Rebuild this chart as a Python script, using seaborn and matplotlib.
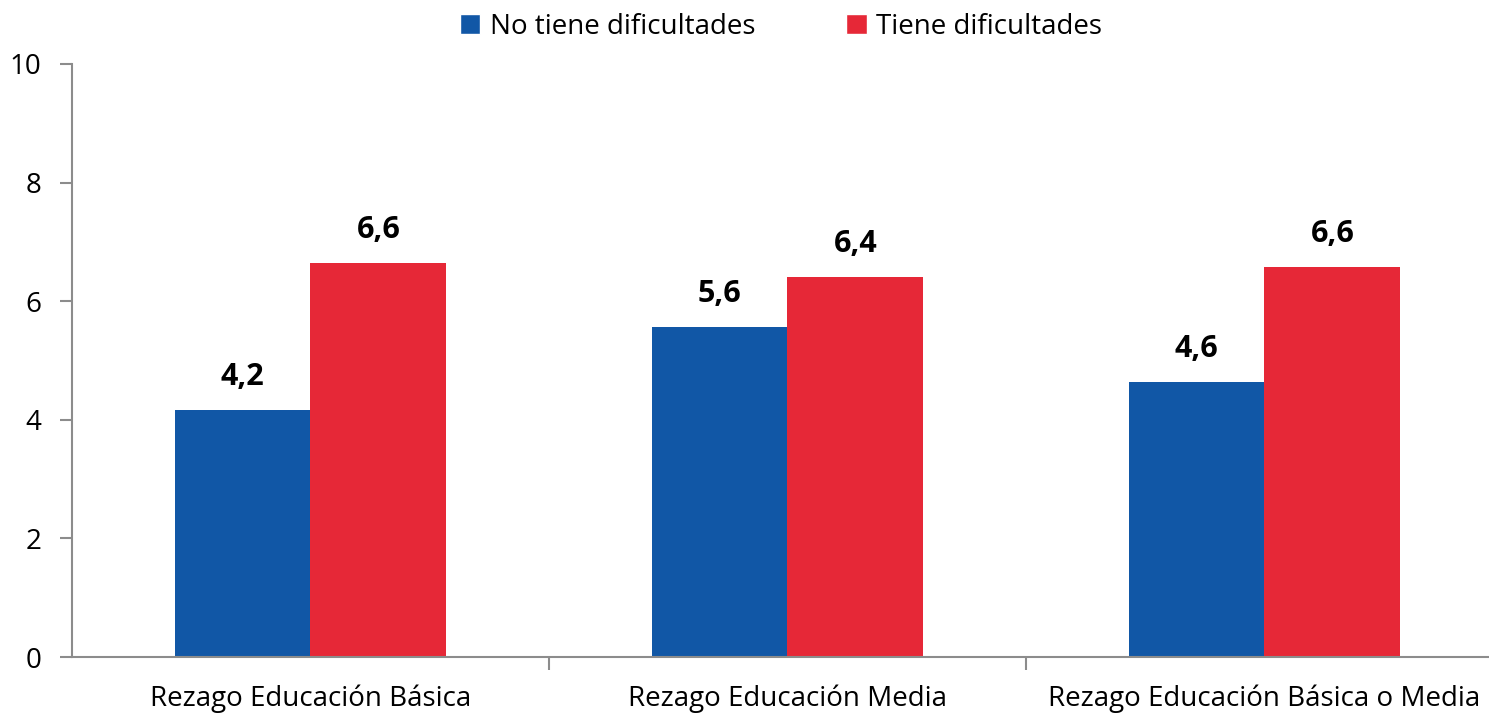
import pandas as pd
import matplotlib
matplotlib.use("Agg")
import matplotlib.pyplot as plt
from matplotlib.patches import Patch
import seaborn as sns

categories = ["Rezago Educación Básica", "Rezago Educación Media",
              "Rezago Educación Básica o Media"]
series = ["No tiene dificultades", "Tiene dificultades"]
no_dificultades = [4.16, 5.57, 4.64]
con_dificultades = [6.64, 6.41, 6.57]
colors = ["#1157A6", "#E62837"]

df = pd.DataFrame({
    "categoria": categories * 2,
    "grupo": [series[0]] * 3 + [series[1]] * 3,
    "valor": no_dificultades + con_dificultades,
})

sns.set_style("white")
plt.rcParams["font.family"] = ["Open Sans", "DejaVu Sans"]
plt.rcParams["text.color"] = "black"
plt.rcParams["xtick.color"] = "black"
plt.rcParams["ytick.color"] = "black"

fig = plt.figure(figsize=(14.89, 7.14), dpi=100)
ax = fig.add_axes([72 / 1489, 57 / 714, 1431 / 1489, 593 / 714])

sns.barplot(data=df, x="categoria", y="valor", hue="grupo",
            palette=colors, width=0.57, saturation=1, ax=ax,
            legend=False, edgecolor="none")

# etiquetas con coma decimal
for container in ax.containers:
    ax.bar_label(container, labels=[f"{v:.1f}".replace(".", ",") for v in container.datavalues],
                 padding=13, fontsize=22, fontweight="bold", color="black")

ax.set_ylim(0, 10)
ax.set_xlim(-0.5, 2.5)
ax.set_yticks(range(0, 11, 2))
ax.set_xlabel("")
ax.set_ylabel("")

for side in ["top", "right"]:
    ax.spines[side].set_visible(False)
for side in ["left", "bottom"]:
    ax.spines[side].set_color("#8C8C8C")
    ax.spines[side].set_linewidth(1.5)

ax.tick_params(axis="y", length=9, width=1.5, color="#8C8C8C", pad=13,
               labelsize=20, left=True, labelcolor="black")
ax.tick_params(axis="x", which="major", length=0, pad=20, labelsize=20,
               labelcolor="black")
ax.set_xticks([0.5, 1.5], minor=True)
ax.tick_params(axis="x", which="minor", length=9, width=1.5,
               color="#8C8C8C", bottom=True)

handles = [Patch(facecolor=c, label=s) for c, s in zip(colors, series)]
fig.legend(handles=handles, loc="center", bbox_to_anchor=(781 / 1489, 1 - 27 / 714),
           ncol=2, frameon=False, fontsize=20, handlelength=0.75,
           handleheight=0.75, handletextpad=0.35, columnspacing=3.25)

plt.savefig("out.png", dpi=100)
plt.close()
